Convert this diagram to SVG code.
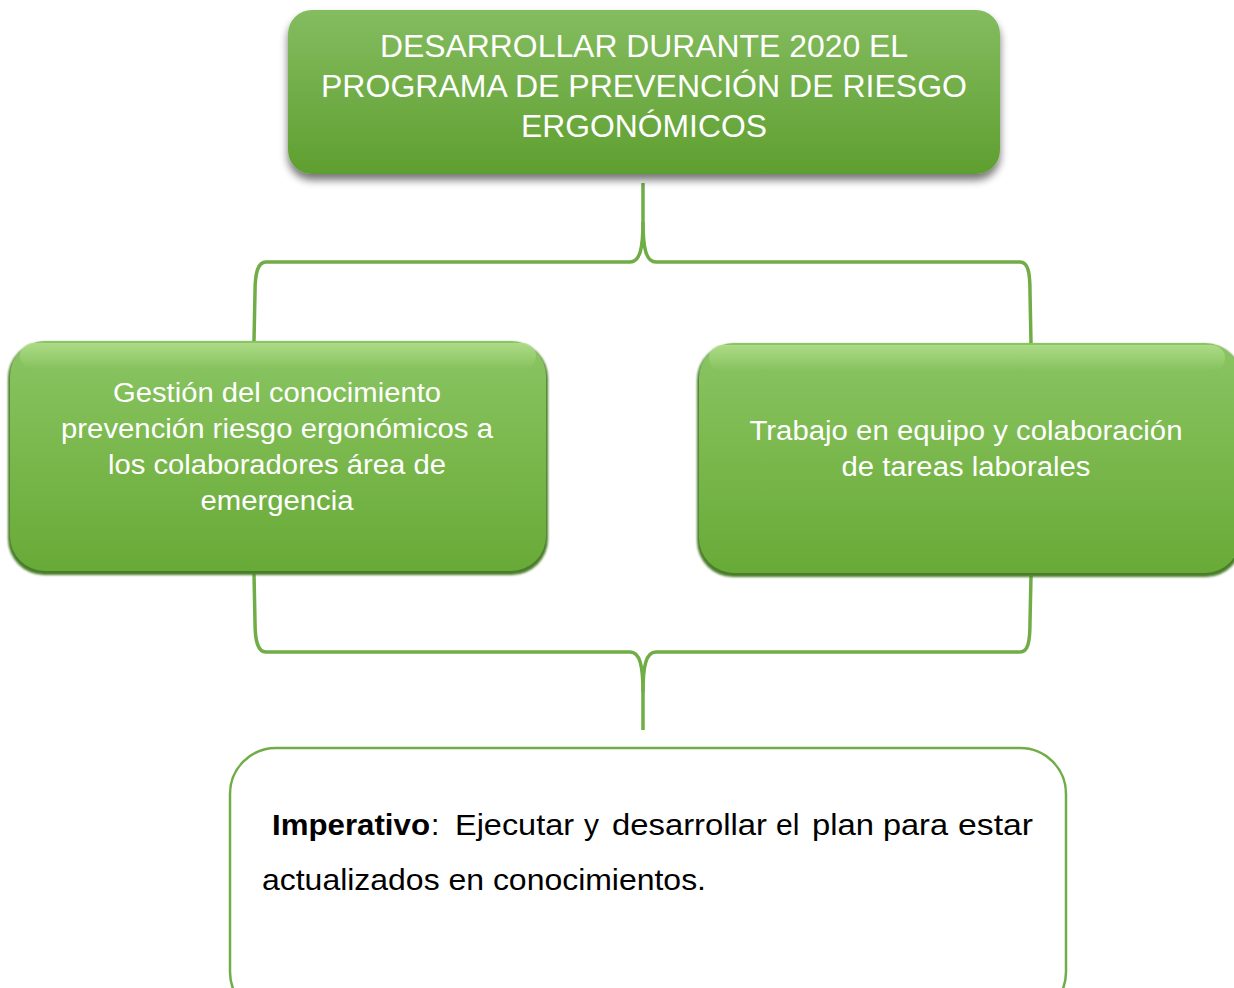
<svg xmlns="http://www.w3.org/2000/svg" width="1234" height="988" viewBox="0 0 1234 988">
<defs>
<linearGradient id="gTop" x1="0" y1="0" x2="0" y2="1">
<stop offset="0" stop-color="#84bc5f"/>
<stop offset="1" stop-color="#5f9f30"/>
</linearGradient>
<linearGradient id="gChild" x1="0" y1="0" x2="0" y2="1">
<stop offset="0" stop-color="#8ac563"/>
<stop offset="0.55" stop-color="#78b64a"/>
<stop offset="1" stop-color="#68aa38"/>
</linearGradient>
<linearGradient id="gHi" x1="0" y1="0" x2="0" y2="1">
<stop offset="0" stop-color="#b5e08f" stop-opacity="0.8"/>
<stop offset="1" stop-color="#b5e08f" stop-opacity="0"/>
</linearGradient>
<filter id="shadow" x="-10%" y="-10%" width="120%" height="130%">
<feGaussianBlur in="SourceAlpha" stdDeviation="4"/>
<feOffset dx="0" dy="6" result="b"/>
<feComponentTransfer><feFuncA type="linear" slope="0.55"/></feComponentTransfer>
<feMerge><feMergeNode/><feMergeNode in="SourceGraphic"/></feMerge>
</filter>
<filter id="soft" x="-5%" y="-5%" width="110%" height="115%">
<feGaussianBlur stdDeviation="1.2"/>
</filter>
</defs>
<style>
.w{font-family:"Liberation Sans",Arial,sans-serif;fill:#ffffff;text-anchor:middle}
.k{font-family:"Liberation Sans",Arial,sans-serif;fill:#000000}
.conn{fill:none;stroke:#70ad47;stroke-width:3.5;stroke-linejoin:round}
</style>
<rect width="1234" height="988" fill="#ffffff"/>

<g id="connectors">
<path class="conn" d="M643,183 L643,222 C643,248 640,262 630,262 L266,262 C258,262 255,272 255,292 L254,341"/>
<path class="conn" d="M643,222 C643,248 646,262 656,262 L1020,262 C1028,262 1030,272 1030,292 L1031,343"/>
<path class="conn" d="M254,574 L255,622 C255,642 258,652 266,652 L630,652 C640,652 643,666 643,692 L643,730"/>
<path class="conn" d="M1031,576 L1030,622 C1030,642 1028,652 1020,652 L656,652 C646,652 643,666 643,692"/>
</g>

<g id="node-top">
<rect x="288" y="10" width="712" height="164" rx="24" fill="url(#gTop)" filter="url(#shadow)"/>
<text class="w" font-size="31"><tspan x="644" y="57" textLength="528" lengthAdjust="spacingAndGlyphs">DESARROLLAR DURANTE 2020 EL</tspan><tspan x="644" y="97" textLength="646" lengthAdjust="spacingAndGlyphs">PROGRAMA DE PREVENCIÓN DE RIESGO</tspan><tspan x="644" y="137" textLength="246" lengthAdjust="spacingAndGlyphs">ERGONÓMICOS</tspan></text>
</g>

<g id="node-left">
<rect x="8" y="342" width="540" height="233" rx="36" fill="#4a7d2a" filter="url(#soft)"/>
<rect x="10" y="341" width="536" height="230" rx="35" fill="url(#gChild)"/>
<rect x="20" y="343" width="516" height="26" rx="13" fill="url(#gHi)"/>
<text class="w" font-size="27"><tspan x="277" y="402" textLength="328" lengthAdjust="spacingAndGlyphs">Gestión del conocimiento</tspan><tspan x="277" y="438" textLength="432" lengthAdjust="spacingAndGlyphs">prevención riesgo ergonómicos a</tspan><tspan x="277" y="474" textLength="338" lengthAdjust="spacingAndGlyphs">los colaboradores área de</tspan><tspan x="277" y="510" textLength="153" lengthAdjust="spacingAndGlyphs">emergencia</tspan></text>
</g>

<g id="node-right">
<rect x="697" y="344" width="545" height="233" rx="36" fill="#4a7d2a" filter="url(#soft)"/>
<rect x="699" y="343" width="541" height="230" rx="35" fill="url(#gChild)"/>
<rect x="709" y="345" width="516" height="26" rx="13" fill="url(#gHi)"/>
<text class="w" font-size="27"><tspan x="966" y="440" textLength="433" lengthAdjust="spacingAndGlyphs">Trabajo en equipo y colaboración</tspan><tspan x="966" y="476" textLength="249" lengthAdjust="spacingAndGlyphs">de tareas laborales</tspan></text>
</g>

<g id="node-bottom">
<rect x="230" y="748" width="836" height="270" rx="46" fill="#ffffff" stroke="#70ad47" stroke-width="2.5"/>
<text class="k" font-size="30" y="835"><tspan x="272" font-weight="bold" textLength="158" lengthAdjust="spacingAndGlyphs">Imperativo</tspan><tspan x="431">:</tspan><tspan x="455" textLength="119" lengthAdjust="spacingAndGlyphs">Ejecutar</tspan><tspan x="584">y</tspan><tspan x="612" textLength="155" lengthAdjust="spacingAndGlyphs">desarrollar</tspan><tspan x="776">el</tspan><tspan x="812" textLength="62" lengthAdjust="spacingAndGlyphs">plan</tspan><tspan x="883" textLength="65" lengthAdjust="spacingAndGlyphs">para</tspan><tspan x="958" textLength="75" lengthAdjust="spacingAndGlyphs">estar</tspan></text>
<text class="k" font-size="30" x="262" y="890" textLength="444" lengthAdjust="spacingAndGlyphs">actualizados en conocimientos.</text>
</g>
</svg>
